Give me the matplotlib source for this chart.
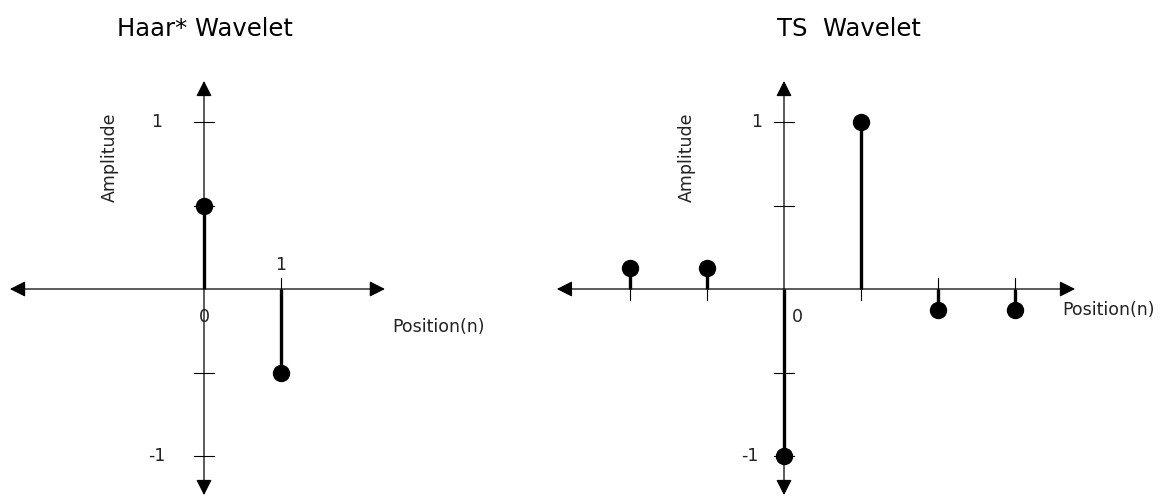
import numpy as np
import matplotlib
matplotlib.use("Agg")
import matplotlib.pyplot as plt

# wavelet coefficients
haar_pos = [0, 1]
haar_amp = [0.5, -0.5]

ts_pos = [-2, -1, 0, 1, 2, 3]
ts_amp = [0.125, 0.125, -1, 1, -0.125, -0.125]

ytick_vals = [-1, -0.5, 0.5, 1]

W, H = 1168, 497
XU, YU = 77.0, 167.0   # pixels per unit
Y0 = 289               # pixel row of the x-axis

plt.rcParams['font.family'] = 'DejaVu Sans'
fig = plt.figure(figsize=(W / 100, H / 100), dpi=100)


def make_axes(px_left, px_right, x0):
    ax = fig.add_axes([px_left / W, 0, (px_right - px_left) / W, 1])
    ax.set_xlim((px_left - x0) / XU, (px_right - x0) / XU)
    ax.set_ylim((Y0 - H) / YU, Y0 / YU)
    ax.axis('off')
    return ax


def arrow(ax, a, b, style):
    ax.annotate('', xy=b, xytext=a,
                arrowprops=dict(arrowstyle=style + ',head_length=0.95,head_width=0.48',
                                mutation_scale=10, lw=0.9, color='black',
                                shrinkA=0, shrinkB=0))


def draw_panel(ax, pos, amp, xmin, xmax):
    # axes with arrow heads
    arrow(ax, (xmin, 0), (xmax, 0), '<|-|>')
    arrow(ax, (0, -1.234), (0, 1.246), '<|-|>')
    # y ticks
    for v in ytick_vals:
        ax.plot([-0.13, 0.13], [v, v], color='black', lw=0.8)
    # x ticks on the side opposite to the stem
    for p, a in zip(pos, amp):
        if p != 0:
            ax.plot([p, p], [0, -np.sign(a) * 0.068], color='black', lw=0.8)
    # stems
    ax.vlines(pos, 0, amp, color='black', lw=2.4)
    ax.plot(pos, amp, 'o', color='black', ms=11.5)


fs = 12.5
tfs = 17.5
tc = '#222222'

# left: Haar*
ax1 = make_axes(0, 560, 204)
draw_panel(ax1, haar_pos, haar_amp, -2.52, 2.35)
ax1.text((117 - 204) / XU, 1.557, 'Haar* Wavelet', fontsize=tfs, ha='left', va='center')
ax1.text(-1.22, 0.79, 'Amplitude', fontsize=fs, rotation=90, ha='center', va='center', color=tc)
ax1.text(-0.62, 1.0, '1', fontsize=fs, ha='center', va='center', color=tc)
ax1.text(-0.61, -1.0, '-1', fontsize=fs, ha='center', va='center', color=tc)
ax1.text(0, -0.168, '0', fontsize=fs, ha='center', va='center', color=tc)
ax1.text(1, 0.144, '1', fontsize=fs, ha='center', va='center', color=tc)
ax1.text(2.44, -0.228, 'Position(n)', fontsize=fs, ha='left', va='center', color=tc)

# right: TS
ax2 = make_axes(560, 1168, 784)
draw_panel(ax2, ts_pos, ts_amp, -2.95, 3.78)
ax2.text(-0.09, 1.557, 'TS  Wavelet', fontsize=tfs, ha='left', va='center')
ax2.text(-1.26, 0.79, 'Amplitude', fontsize=fs, rotation=90, ha='center', va='center', color=tc)
ax2.text(-0.36, 1.0, '1', fontsize=fs, ha='center', va='center', color=tc)
ax2.text(-0.44, -1.0, '-1', fontsize=fs, ha='center', va='center', color=tc)
ax2.text(0.17, -0.168, '0', fontsize=fs, ha='center', va='center', color=tc)
ax2.text(3.61, -0.126, 'Position(n)', fontsize=fs, ha='left', va='center', color=tc)

fig.savefig('out.png', dpi=100)
